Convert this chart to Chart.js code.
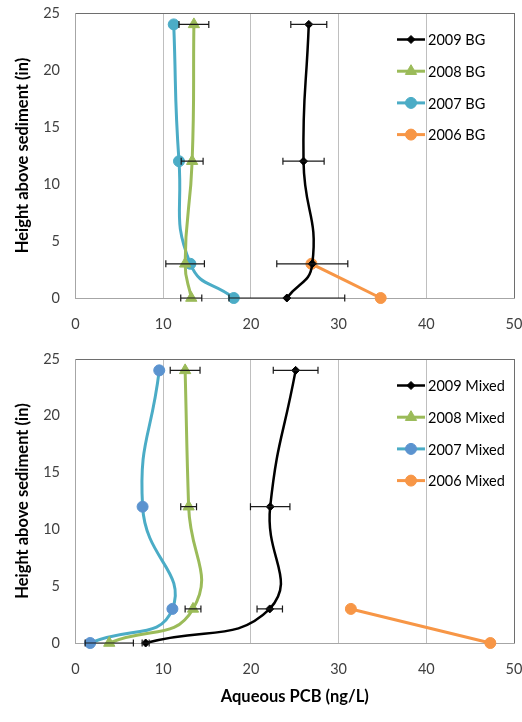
<!DOCTYPE html>
<html>
<head>
<meta charset="utf-8">
<script src="https://cdn.jsdelivr.net/npm/chart.js@4/dist/chart.umd.min.js"></script>
<style>
  html, body { margin: 0; padding: 0; background: #ffffff; }
  #wrap1 { position: absolute; left: 0; top: 0; width: 522px; height: 340px; }
  #wrap2 { position: absolute; left: 0; top: 340px; width: 522px; height: 382px; }
</style>
</head>
<body>
<div id="wrap1"><canvas id="c1" width="522" height="340"></canvas></div>
<div id="wrap2"><canvas id="c2" width="522" height="382"></canvas></div>
<script>
// ---- Data ----
const heights = [24, 12, 3, 0];
const heights2006 = [3, 0];
const xTicks = [0, 10, 20, 30, 40, 50];
const yTicks = [0, 5, 10, 15, 20, 25];

// Background (BG) profiles, ng/L
const bg2009 = [26.6, 26.0, 27.0, 24.1];
const bg2009Err = [2.05, 2.35, 4.05, 6.6];
const bg2008 = [13.5, 13.3, 12.5, 13.2];
const bg2008Err = [1.7, 1.25, 2.2, 1.2];
const bg2007 = [11.2, 11.8, 13.1, 18.05];
const bg2006 = [26.9, 34.8];

// Mixed profiles, ng/L
const mx2009 = [25.1, 22.2, 22.15, 8.0];
const mx2009Err = [2.55, 2.25, 1.45, 0.4];
const mx2008 = [12.5, 12.9, 13.4, 3.85];
const mx2008Err = [1.7, 0.9, 0.9, 2.75];
const mx2007 = [9.55, 7.65, 11.05, 1.67];
const mx2006 = [31.4, 47.3];

const labelsBG = ['2009 BG', '2008 BG', '2007 BG', '2006 BG'];
const labelsMX = ['2009 Mixed', '2008 Mixed', '2007 Mixed', '2006 Mixed'];

// ---- Styles ----
const FONT = 'Lato, "Open Sans", sans-serif';
const C_BLACK = '#000000';
const C_GREEN = '#9BBB59';
const C_TEAL = '#4BACC6';
const C_BLUE = '#5B93CF';
const C_ORANGE = '#F79646';

function pts(xs, ys) { return xs.map((v, i) => ({ x: v, y: ys[i] })); }

function makeDatasets(labels, d09, e09, d08, e08, d07, d06, blueMarker) {
  return [
    { label: labels[0], data: pts(d09, heights), errs: e09,
      borderColor: C_BLACK, backgroundColor: C_BLACK, pointStyle: 'rectRot',
      pointRadius: 4, borderWidth: 2.5, pointBorderWidth: 1 },
    { label: labels[1], data: pts(d08, heights), errs: e08,
      borderColor: C_GREEN, backgroundColor: C_GREEN, pointStyle: 'triangle',
      pointRadius: 6.5, borderWidth: 3, pointBorderWidth: 1 },
    { label: labels[2], data: pts(d07, heights),
      borderColor: C_TEAL, backgroundColor: blueMarker ? C_BLUE : C_TEAL,
      pointBorderColor: blueMarker ? C_BLUE : C_TEAL, pointStyle: 'circle',
      pointRadius: 5.5, borderWidth: 3, pointBorderWidth: 1 },
    { label: labels[3], data: pts(d06, heights2006),
      borderColor: C_ORANGE, backgroundColor: C_ORANGE, pointStyle: 'circle',
      pointRadius: 5.5, borderWidth: 3, pointBorderWidth: 1 }
  ];
}

// Error bars plugin (horizontal)
const errorBars = {
  id: 'errorBars',
  afterDatasetsDraw(chart) {
    const ctx = chart.ctx;
    const xs = chart.scales.x, ys = chart.scales.y;
    ctx.save();
    ctx.strokeStyle = '#1a1a1a';
    ctx.lineWidth = 1.2;
    chart.data.datasets.forEach(ds => {
      if (!ds.errs) return;
      ds.data.forEach((p, i) => {
        const e = ds.errs[i];
        const x1 = xs.getPixelForValue(p.x - e);
        const x2 = xs.getPixelForValue(p.x + e);
        const y = ys.getPixelForValue(p.y);
        ctx.beginPath();
        ctx.moveTo(x1, y); ctx.lineTo(x2, y);
        ctx.moveTo(x1, y - 3.5); ctx.lineTo(x1, y + 3.5);
        ctx.moveTo(x2, y - 3.5); ctx.lineTo(x2, y + 3.5);
        ctx.stroke();
      });
    });
    ctx.restore();
  }
};

// Legend drawn inside plot area
const innerLegend = {
  id: 'innerLegend',
  afterDraw(chart) {
    const ctx = chart.ctx;
    const a = chart.chartArea;
    ctx.save();
    ctx.font = '14.5px ' + FONT;
    ctx.textBaseline = 'middle';
    ctx.textAlign = 'left';
    chart.data.datasets.forEach((ds, i) => {
      const y = a.top + 26.5 + 31.7 * i;
      const x1 = 397, x2 = 425;
      ctx.strokeStyle = ds.borderColor;
      ctx.lineWidth = ds.borderWidth;
      ctx.beginPath(); ctx.moveTo(x1, y); ctx.lineTo(x2, y); ctx.stroke();
      ctx.fillStyle = ds.backgroundColor;
      ctx.strokeStyle = ds.pointBorderColor || ds.borderColor;
      ctx.lineWidth = 1;
      Chart.helpers.drawPoint(ctx, { pointStyle: ds.pointStyle, radius: ds.pointRadius, borderWidth: 1, rotation: 0 }, (x1 + x2) / 2, y);
      ctx.fillStyle = '#000';
      ctx.fillText(ds.label, 428, y + 1);
    });
    ctx.restore();
  }
};

function zeroPad(s) { s.paddingLeft = 0; s.paddingRight = 0; s.paddingTop = 0; s.paddingBottom = 0; }

function makeOptions(cfg) {
  return {
    responsive: false,
    animation: false,
    layout: { autoPadding: false, padding: { top: cfg.padTop, right: 8, left: 0, bottom: 0 } },
    plugins: { legend: { display: false }, tooltip: { enabled: false } },
    elements: { line: { tension: 0.5 } },
    scales: {
      x: {
        type: 'linear', min: 0, max: 50,
        afterBuildTicks(s) { s.ticks = xTicks.map(v => ({ value: v })); },
        afterFit(s) { s.height = cfg.xHeight; zeroPad(s); },
        grid: {
          drawTicks: false,
          color: ctx => ctx.tick && ctx.tick.value === 50 ? '#6e6e6e' : (ctx.tick && ctx.tick.value === 0 ? 'rgba(0,0,0,0)' : '#bfbfbf'),
          lineWidth: 1
        },
        border: { display: true, color: '#a6a6a6', width: 1 },
        ticks: { padding: cfg.xTickPad, color: '#404040', font: { family: FONT, size: 14.5 }, maxRotation: 0 },
        title: cfg.xTitle ? { display: true, text: 'Aqueous PCB (ng/L)', color: '#000', font: { family: FONT, size: 16.5, weight: 'bold' }, padding: { top: 0, bottom: 15 } } : { display: false }
      },
      y: {
        type: 'linear', min: 0, max: 25,
        afterBuildTicks(s) { s.ticks = yTicks.map(v => ({ value: v })); },
        afterFit(s) { s.width = 75.5; zeroPad(s); },
        grid: {
          drawTicks: false,
          color: ctx => ctx.tick && ctx.tick.value === 25 ? '#6e6e6e' : 'rgba(0,0,0,0)',
          lineWidth: 1
        },
        border: { display: true, color: '#a6a6a6', width: 1 },
        ticks: { padding: 15.5, color: '#404040', font: { family: FONT, size: 14.5 } },
        title: { display: true, text: 'Height above sediment (in)', color: '#000', font: { family: FONT, size: 16.5, weight: 'bold' }, padding: { top: 13, bottom: 0 } }
      }
    }
  };
}

const dsTop = makeDatasets(labelsBG, bg2009, bg2009Err, bg2008, bg2008Err, bg2007, bg2006, false);
const dsBot = makeDatasets(labelsMX, mx2009, mx2009Err, mx2008, mx2008Err, mx2007, mx2006, true);
[dsTop, dsBot].forEach(list => list.forEach(d => { d.showLine = true; d.clip = false; d.tension = 0.5; }));

new Chart(document.getElementById('c1'), {
  type: 'scatter',
  data: { datasets: dsTop },
  options: makeOptions({ padTop: 13, xHeight: 42, xTickPad: 18, xTitle: false }),
  plugins: [errorBars, innerLegend]
});

new Chart(document.getElementById('c2'), {
  type: 'scatter',
  data: { datasets: dsBot },
  options: makeOptions({ padTop: 19, xHeight: 79, xTickPad: 18, xTitle: true }),
  plugins: [errorBars, innerLegend]
});
</script>
</body>
</html>
